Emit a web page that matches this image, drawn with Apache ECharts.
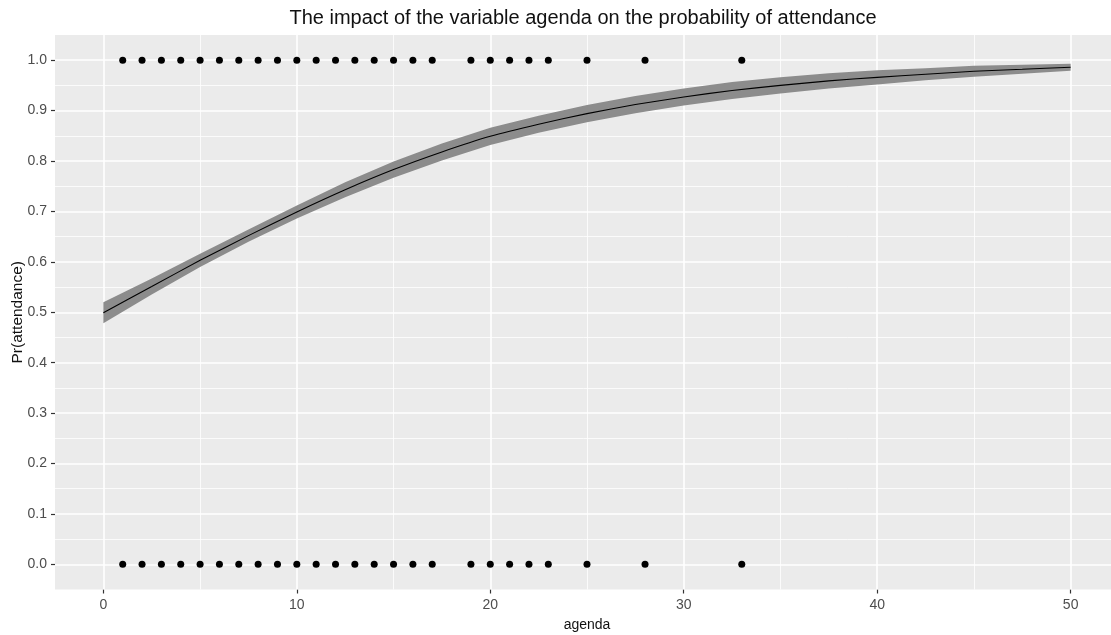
<!DOCTYPE html>
<html>
<head>
<meta charset="utf-8">
<title>Pr(attendance) by agenda</title>
<script src="https://cdn.jsdelivr.net/npm/echarts@6/dist/echarts.min.js"></script>
<style>
  html, body { margin: 0; padding: 0; background: #ffffff; }
  #chart { width: 1111px; height: 635px; }
</style>
</head>
<body>
<div id="chart"></div>
<script>
// Observed outcomes: agenda values with attendance = 1 and attendance = 0
const agendaAttended = [1, 2, 3, 4, 5, 6, 7, 8, 9, 10, 11, 12, 13, 14, 15, 16, 17, 19, 20, 21, 22, 23, 25, 28, 33];
const agendaAbsent   = [1, 2, 3, 4, 5, 6, 7, 8, 9, 10, 11, 12, 13, 14, 15, 16, 17, 19, 20, 21, 22, 23, 25, 28, 33];

// Predicted probability curve and its interval
const curveX     = [0, 2.5, 5, 7.5, 10, 12.5, 15, 17.5, 20, 22.5, 25, 27.5, 30, 32.5, 35, 37.5, 40, 42.5, 45, 47.5, 50];
const curveFit   = [0.499, 0.551, 0.603, 0.652, 0.699, 0.743, 0.783, 0.818, 0.849, 0.873, 0.894, 0.912, 0.927, 0.940, 0.950, 0.959, 0.966, 0.972, 0.978, 0.982, 0.986];
const curveLower = [0.478, 0.535, 0.590, 0.640, 0.686, 0.728, 0.767, 0.801, 0.832, 0.856, 0.877, 0.895, 0.910, 0.923, 0.934, 0.944, 0.952, 0.960, 0.967, 0.973, 0.979];
const curveUpper = [0.520, 0.567, 0.616, 0.664, 0.712, 0.758, 0.799, 0.835, 0.866, 0.890, 0.911, 0.929, 0.944, 0.957, 0.966, 0.974, 0.980, 0.984, 0.989, 0.991, 0.993];

// Axis breaks
const xMajor = [0, 10, 20, 30, 40, 50];
const xMinor = [5, 15, 25, 35, 45];
const yMajor = [0, 0.1, 0.2, 0.3, 0.4, 0.5, 0.6, 0.7, 0.8, 0.9, 1.0];
const yMinor = [0.05, 0.15, 0.25, 0.35, 0.45, 0.55, 0.65, 0.75, 0.85, 0.95];

const FONT = '"Liberation Sans", Arial, sans-serif';

const gridLines = []
  .concat(xMinor.map(v => ({ xAxis: v, lineStyle: { width: 0.8 } })))
  .concat(yMinor.map(v => ({ yAxis: v, lineStyle: { width: 0.8 } })))
  .concat(xMajor.map(v => ({ xAxis: v, lineStyle: { width: 1.6 } })))
  .concat(yMajor.map(v => ({ yAxis: v, lineStyle: { width: 1.6 } })));

// Interval ribbon: lower edge left to right, then upper edge right to left
function renderRibbon(params, api) {
  const pts = [];
  for (let i = 0; i < curveX.length; i++) {
    pts.push(api.coord([curveX[i], curveLower[i]]));
  }
  for (let i = curveX.length - 1; i >= 0; i--) {
    pts.push(api.coord([curveX[i], curveUpper[i]]));
  }
  return {
    type: 'polygon',
    shape: { points: pts },
    style: { fill: '#8c8c8c', stroke: null }
  };
}

const chart = echarts.init(document.getElementById('chart'), null, { renderer: 'canvas' });

chart.setOption({
  animation: false,
  backgroundColor: '#ffffff',
  textStyle: { fontFamily: FONT },
  graphic: [
    {
      type: 'text', x: 583, y: 18, z: 10,
      style: {
        text: 'The impact of the variable agenda on the probability of attendance',
        fontFamily: FONT, fontSize: 20, fill: '#111111',
        textAlign: 'center', textVerticalAlign: 'middle'
      }
    }
  ],
  grid: {
    left: 55, top: 35, width: 1064, height: 554.5,
    containLabel: false, outerBoundsMode: 'none',
    show: true, backgroundColor: '#ebebeb', borderWidth: 0
  },
  xAxis: {
    type: 'value', min: -2.5, max: 52.5,
    name: 'agenda', nameLocation: 'middle', nameGap: 29, nameMoveOverlap: false,
    nameTextStyle: { fontFamily: FONT, fontSize: 14, color: '#111111' },
    axisLine: { show: false, onZero: false },
    axisTick: { show: true, length: 4, customValues: xMajor, lineStyle: { color: '#333333', width: 1.2 } },
    axisLabel: { customValues: xMajor, margin: 9, fontFamily: FONT, fontSize: 14, color: '#4d4d4d',
                 formatter: v => String(v) },
    splitLine: { show: false },
    minorSplitLine: { show: false }
  },
  yAxis: {
    type: 'value', min: -0.05, max: 1.05,
    name: 'Pr(attendance)', nameLocation: 'middle', nameGap: 29, nameRotate: 90, nameMoveOverlap: false,
    nameTextStyle: { fontFamily: FONT, fontSize: 15.5, color: '#111111' },
    axisLine: { show: false, onZero: false },
    axisTick: { show: true, length: 4, customValues: yMajor, lineStyle: { color: '#333333', width: 1.2 } },
    axisLabel: { customValues: yMajor, margin: 8, fontFamily: FONT, fontSize: 14, color: '#4d4d4d',
                 formatter: v => v.toFixed(1) },
    splitLine: { show: false },
    minorSplitLine: { show: false }
  },
  series: [
    {
      // panel grid lines
      type: 'line', data: [], z: 1, silent: true,
      markLine: {
        silent: true, z: 1, symbol: ['none', 'none'],
        label: { show: false },
        emphasis: { disabled: true },
        lineStyle: { color: '#ffffff', type: 'solid' },
        data: gridLines
      }
    },
    {
      name: 'interval', type: 'custom', z: 3, silent: true,
      renderItem: renderRibbon,
      data: [[curveX[0], curveLower[0]]],
      clip: true
    },
    {
      name: 'fit', type: 'line', z: 4, silent: true,
      data: curveX.map((x, i) => [x, curveFit[i]]),
      symbol: 'none', smooth: 0.2,
      lineStyle: { color: '#000000', width: 1.1 }
    },
    {
      name: 'attended', type: 'scatter', z: 5,
      data: agendaAttended.map(x => [x, 1]),
      symbol: 'circle', symbolSize: 7,
      itemStyle: { color: '#000000', opacity: 1 }
    },
    {
      name: 'absent', type: 'scatter', z: 5,
      data: agendaAbsent.map(x => [x, 0]),
      symbol: 'circle', symbolSize: 7,
      itemStyle: { color: '#000000', opacity: 1 }
    }
  ]
});
</script>
</body>
</html>
